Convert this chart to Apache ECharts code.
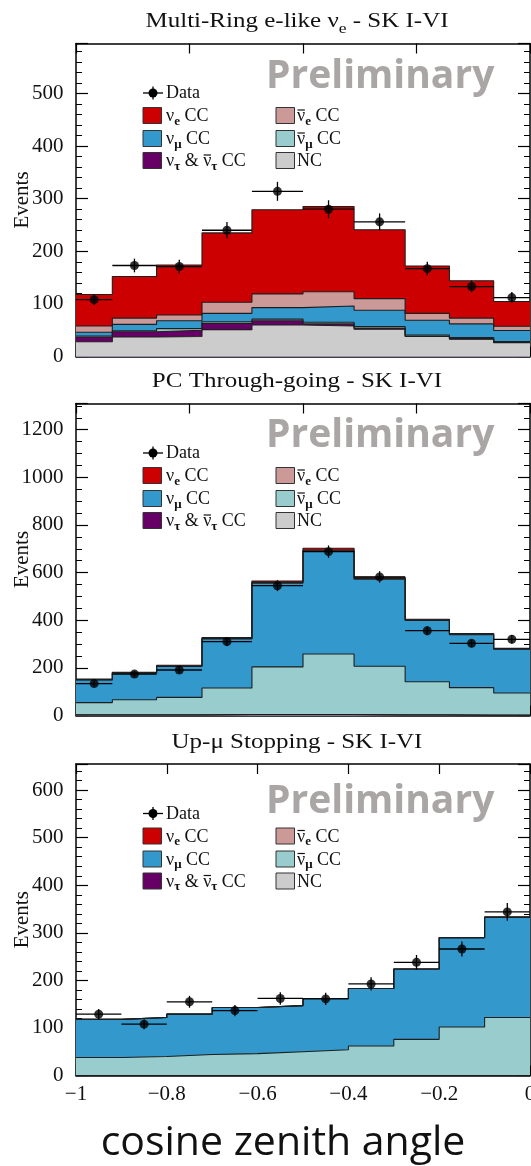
<!DOCTYPE html>
<html>
<head>
<meta charset="utf-8">
<script src="https://cdn.jsdelivr.net/npm/echarts@6/dist/echarts.min.js"></script>
<style>
  html, body { margin: 0; padding: 0; background: #ffffff; }
  #chart { width: 531px; height: 1166px; }
</style>
</head>
<body>
<div id="chart"></div>
<script>
// ---- bin edges (cos zenith) ----
const edgesMultiRing = [-1, -0.84, -0.645, -0.445, -0.225, 0, 0.225, 0.45, 0.645, 0.84, 1];
const edgesThroughGoing = [-1, -0.84, -0.645, -0.445, -0.225, 0, 0.225, 0.45, 0.645, 0.84, 1];
const edgesUpMu = [-1, -0.9, -0.8, -0.7, -0.6, -0.5, -0.4, -0.3, -0.2, -0.1, 0];

// ---- Multi-Ring e-like nu_e ----
const mrNC        = [28, 37, 38, 51, 60, 58, 52, 38, 33, 26];
const mrNuTau     = [9, 10, 12, 12, 8, 4, 2, 1, 1, 0.5];
const mrNuMuBar   = [2, 2, 3, 3, 3, 3, 3, 2, 2, 2];
const mrNuMu      = [7, 12, 15, 16, 22, 31, 31, 28, 26, 21];
const mrNuEBar    = [12, 12, 11, 21, 26, 27, 22, 13, 11, 8];
const mrNuE       = [60, 79, 95, 132, 160, 162, 131, 90, 71, 47];
const mrData      = [108, 173, 171, 240, 314, 280, 256, 167, 133, 112];
const mrErr       = [10, 13, 13, 15.5, 18, 17, 16, 13, 11.5, 10.5];

// ---- PC Through-going ----
const pcNC        = [2, 2, 2, 3, 3, 3, 2, 2, 1, 1];
const pcNuTau     = [0.5, 0.5, 0.5, 1, 1, 1, 0.5, 0.5, 0.5, 0.5];
const pcNuMuBar   = [51.5, 63.5, 73.5, 111.5, 200, 254, 204, 139.5, 115.5, 93];
const pcNuMu      = [95, 111.5, 130, 205.5, 352, 432, 366, 257, 222, 183.5];
const pcNuEBar    = [1.5, 1.5, 2, 2, 3, 4, 3, 2, 2, 1.5];
const pcNuE       = [2.5, 2.5, 3, 4, 6, 8, 5, 3, 3, 2.5];
const pcData      = [134, 174, 191, 310, 545, 688, 582, 356, 303, 320];
const pcErr       = [12, 13, 14, 18, 23, 26, 24, 19, 17, 18];

// ---- Up-mu Stopping ----
const usNC        = [0, 0, 0, 0, 0, 0, 0, 0, 0, 0];
const usNuTau     = [0, 0, 0, 0, 0, 0, 0, 0, 0, 0];
const usNuMuBar   = [38, 40, 44, 46, 50, 54, 62, 76, 102, 122];
const usNuMu      = [80, 82, 85, 97, 97, 108, 121, 148, 188, 211];
const usNuEBar    = [0, 0, 0, 0, 0, 0, 0, 0, 0, 0];
const usNuE       = [0, 0, 0, 0, 0, 0, 0, 0, 0, 0];
const usData      = [129, 108, 155, 136.5, 162, 161, 192.5, 238, 266, 344];
const usErr       = [11, 10.5, 12.5, 12, 13, 13, 14, 15.5, 16, 18.5];

// ---- y axis tick settings ----
const mrYTicks = { max: 595, interval: 100, minor: 5 };
const pcYTicks = { max: 1310, interval: 200, minor: 4 };
const usYTicks = { max: 655, interval: 100, minor: 5 };

// layer order from the bottom of the stack up
const layerColors = ['#cccccc', '#660066', '#99cccc', '#3399cc', '#cc9999', '#cc0000'];
const outline = '#1e1e1e';
const SERIF = '"Liberation Serif"';

const GRID_LEFT = 76, GRID_WIDTH = 454;

// text made of runs: plain, subscript, and overlined pieces
const measureCtx = document.createElement('canvas').getContext('2d');
function textWidth(str, font) { measureCtx.font = font; return measureCtx.measureText(str).width; }

function runText(x, y, runs, o) {
  const fontMain = o.size + 'px ' + SERIF;
  const fontSub = (o.subBold ? 'bold ' : '') + o.subSize + 'px ' + SERIF;
  const widths = runs.map(r => textWidth(r.t, r.sub ? fontSub : fontMain) * o.sx);
  const total = widths.reduce((a, b) => a + b, 0);
  let cx = o.align === 'center' ? x - total / 2 : x;
  const els = [];
  runs.forEach((r, i) => {
    els.push({
      type: 'text', x: cx, y: y + (r.sub ? o.subDrop : 0), scaleX: o.sx,
      style: { text: r.t, font: r.sub ? fontSub : fontMain, fill: '#111',
               textAlign: 'left', textVerticalAlign: 'middle' }
    });
    if (r.bar) {
      els.push({ type: 'line', shape: { x1: cx + 0.5, y1: y + o.barY, x2: cx + widths[i] - 0.3, y2: y + o.barY },
                 style: { stroke: '#111', lineWidth: 1.2 } });
    }
    cx += widths[i];
  });
  return els;
}

const panels = [
  {
    title: [{ t: 'Multi-Ring e-like ν' }, { t: 'e', sub: true }, { t: ' - SK I-VI' }],
    edges: edgesMultiRing,
    layers: [mrNC, mrNuTau, mrNuMuBar, mrNuMu, mrNuEBar, mrNuE],
    data: mrData, err: mrErr, y: mrYTicks,
    x: { min: -1, max: 1, interval: 0.5, labels: false },
    top: 43.5, height: 313, prelimY: 77
  },
  {
    title: [{ t: 'PC Through-going - SK I-VI' }],
    edges: edgesThroughGoing,
    layers: [pcNC, pcNuTau, pcNuMuBar, pcNuMu, pcNuEBar, pcNuE],
    data: pcData, err: pcErr, y: pcYTicks,
    x: { min: -1, max: 1, interval: 0.5, labels: false },
    top: 403.5, height: 312, prelimY: 436
  },
  {
    title: [{ t: 'Up-μ Stopping - SK I-VI' }],
    edges: edgesUpMu,
    layers: [usNC, usNuTau, usNuMuBar, usNuMu, usNuEBar, usNuE],
    data: usData, err: usErr, y: usYTicks,
    x: { min: -1, max: 0, interval: 0.2, labels: true },
    top: 764, height: 311.5, prelimY: 802
  }
];

const legendEntries = [
  { layer: 5, col: 0, row: 0, runs: [{ t: 'ν' }, { t: 'e', sub: true }, { t: ' CC' }] },
  { layer: 4, col: 1, row: 0, runs: [{ t: 'ν', bar: true }, { t: 'e', sub: true }, { t: ' CC' }] },
  { layer: 3, col: 0, row: 1, runs: [{ t: 'ν' }, { t: 'μ', sub: true }, { t: ' CC' }] },
  { layer: 2, col: 1, row: 1, runs: [{ t: 'ν', bar: true }, { t: 'μ', sub: true }, { t: ' CC' }] },
  { layer: 1, col: 0, row: 2, runs: [{ t: 'ν' }, { t: 'τ', sub: true }, { t: ' & ' }, { t: 'ν', bar: true }, { t: 'τ', sub: true }, { t: ' CC' }] },
  { layer: 0, col: 1, row: 2, runs: [{ t: 'NC' }] }
];

function stepPoints(edges, vals) {
  const pts = vals.map((v, i) => [edges[i], v]);
  pts.push([edges[edges.length - 1], vals[vals.length - 1]]);
  return pts;
}

function minusFmt(v) {
  const r = Math.round(v * 10) / 10;
  return r < 0 ? '\u2212' + Math.abs(r) : String(r);
}

const tickFont = { fontFamily: 'Liberation Serif', fontSize: 21, color: '#111' };

const grids = [], xAxes = [], yAxes = [], series = [];
let graphics = [];

const axisLine = { show: true, onZero: false, lineStyle: { color: '#000', width: 1.5 } };

panels.forEach((p, k) => {
  grids.push({ left: GRID_LEFT, width: GRID_WIDTH, top: p.top, height: p.height,
               containLabel: false, outerBoundsMode: 'none' });

  const xBase = {
    gridIndex: k, type: 'value', min: p.x.min, max: p.x.max, interval: p.x.interval,
    axisLine: axisLine, splitLine: { show: false },
    axisTick: { show: true, inside: true, length: 10, lineStyle: { color: '#000', width: 1.2 } }
  };
  xAxes.push(Object.assign({}, xBase, {
    position: 'bottom',
    axisLabel: p.x.labels
      ? Object.assign({ show: true, formatter: minusFmt, margin: 8, showMinLabel: true, showMaxLabel: true }, tickFont)
      : { show: false }
  }));
  xAxes.push(Object.assign({}, xBase, { position: 'top', axisLabel: { show: false } }));

  const yBase = {
    gridIndex: k, type: 'value', min: 0, max: p.y.max, interval: p.y.interval,
    axisLine: axisLine, splitLine: { show: false }, minorSplitLine: { show: false },
    axisTick: { show: true, inside: true, length: 12, lineStyle: { color: '#000', width: 1.2 } },
    minorTick: { show: true, splitNumber: p.y.minor, length: 6, lineStyle: { color: '#000', width: 1 } }
  };
  yAxes.push(Object.assign({}, yBase, {
    position: 'left',
    axisLabel: Object.assign({ show: true, formatter: v => String(v), margin: 12.5, showMaxLabel: false }, tickFont)
  }));
  yAxes.push(Object.assign({}, yBase, { position: 'right', axisLabel: { show: false } }));

  // cumulative stack tops, drawn from the tallest down so lower layers overlay
  const cum = [];
  p.layers.forEach((arr, j) => {
    cum.push(arr.map((v, i) => v + (j > 0 ? cum[j - 1][i] : 0)));
  });
  for (let j = cum.length - 1; j >= 0; j--) {
    series.push({
      type: 'line', xAxisIndex: 2 * k, yAxisIndex: 2 * k,
      data: stepPoints(p.edges, cum[j]), step: 'end', symbol: 'none',
      lineStyle: { color: outline, width: 1.1 },
      areaStyle: { color: layerColors[j], opacity: 1 },
      silent: true, z: 2
    });
  }

  // data points with bin-width and statistical error bars
  series.push({
    type: 'custom', xAxisIndex: 2 * k, yAxisIndex: 2 * k, z: 5,
    data: p.data.map((v, i) => [p.edges[i], p.edges[i + 1], v, p.err[i]]),
    encode: { x: [0, 1], y: 2 },
    renderItem: function (params, api) {
      const x0 = api.value(0), x1 = api.value(1), y = api.value(2), e = api.value(3);
      const l = api.coord([x0, y]), r = api.coord([x1, y]);
      const t = api.coord([(x0 + x1) / 2, y + e]), b = api.coord([(x0 + x1) / 2, y - e]);
      const st = { stroke: '#000', lineWidth: 1.3 };
      return { type: 'group', children: [
        { type: 'line', shape: { x1: l[0], y1: l[1], x2: r[0], y2: r[1] }, style: st },
        { type: 'line', shape: { x1: t[0], y1: t[1], x2: b[0], y2: b[1] }, style: st }
      ] };
    }
  });
  series.push({
    type: 'scatter', xAxisIndex: 2 * k, yAxisIndex: 2 * k, z: 6,
    data: p.data.map((v, i) => [(p.edges[i] + p.edges[i + 1]) / 2, v]),
    symbol: 'circle', symbolSize: 9, itemStyle: { color: '#000' }
  });

  // panel title
  graphics = graphics.concat(runText(297, p.top - 21.5, p.title,
    { size: 20, subSize: 14, subBold: false, subDrop: 7, barY: -7, sx: 1.25, align: 'center' }));

  // y axis name
  graphics.push({
    type: 'text', x: 22, y: p.top + p.height / 2, rotation: Math.PI / 2,
    style: { text: 'Events', font: '21px ' + SERIF, fill: '#111',
             textAlign: 'center', textVerticalAlign: 'middle' }
  });

  // watermark
  graphics.push({
    type: 'text', x: 266, y: p.prelimY,
    style: { text: 'Preliminary', font: 'bold 39px "Open Sans"', fill: '#aaa6a6',
             textAlign: 'left', textVerticalAlign: 'middle' }
  });

  // legend
  const legOpts = { size: 18, subSize: 13, subBold: true, subDrop: 5, barY: -6.5, sx: 1, align: 'left' };
  const yD = p.top + 49.5;
  graphics.push({ type: 'line', shape: { x1: 143, y1: yD, x2: 163, y2: yD }, style: { stroke: '#000', lineWidth: 1.3 } });
  graphics.push({ type: 'line', shape: { x1: 153, y1: yD - 6.5, x2: 153, y2: yD + 6.5 }, style: { stroke: '#000', lineWidth: 1.3 } });
  graphics.push({ type: 'circle', shape: { cx: 153, cy: yD, r: 4.5 }, style: { fill: '#000' } });
  graphics = graphics.concat(runText(166, yD + 0.5, [{ t: 'Data' }], legOpts));

  const rowY = [72, 95, 117];
  const colBox = [143, 276], colText = [166, 297];
  legendEntries.forEach(e => {
    const cy = p.top + rowY[e.row];
    graphics.push({ type: 'rect', shape: { x: colBox[e.col], y: cy - 8, width: 18.5, height: 16 },
                    style: { fill: layerColors[e.layer], stroke: '#333', lineWidth: 1 } });
    graphics = graphics.concat(runText(colText[e.col], cy + 1, e.runs, legOpts));
  });
});

graphics.push({
  type: 'text', x: 283, y: 1143,
  style: { text: 'cosine zenith angle', font: '41px "Open Sans"', fill: '#111',
           textAlign: 'center', textVerticalAlign: 'middle' }
});

const chart = echarts.init(document.getElementById('chart'), null, { renderer: 'canvas' });
chart.setOption({
  animation: false,
  backgroundColor: '#ffffff',
  grid: grids,
  xAxis: xAxes,
  yAxis: yAxes,
  series: series,
  graphic: { elements: graphics }
});
</script>
</body>
</html>
